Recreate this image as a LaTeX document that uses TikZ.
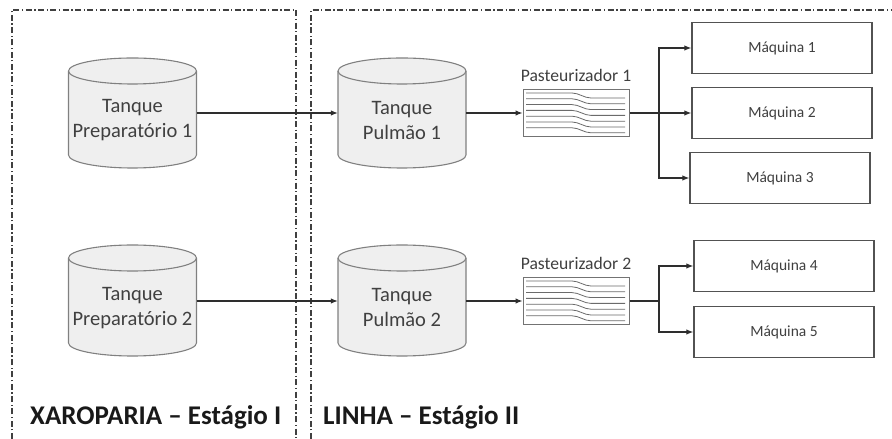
\documentclass[tikz,border=0pt]{standalone}
\usepackage{fontspec}
\setmainfont{Carlito}
\usetikzlibrary{arrows.meta}
\definecolor{tankfill}{HTML}{EFEFEF}
\definecolor{tankline}{HTML}{808080}
\definecolor{txt}{HTML}{404040}
\newcommand\mytank[6]{% name, cx, ytop, ybot, textY, text
  \filldraw[fill=tankfill,draw=tankline,line width=1.1pt]
    ({#2-64},{#3-13}) -- ({#2-64},{#4+13})
    arc[start angle=180,end angle=360,x radius=64,y radius=13]
    -- ({#2+64},{#3-13})
    arc[start angle=0,end angle=180,x radius=64,y radius=13] -- cycle;
  \draw[draw=tankline,line width=1.1pt] ({#2-64},{#3-13})
    arc[start angle=180,end angle=360,x radius=64,y radius=13];
  \node[minimum width=128pt,minimum height=60pt,inner sep=0pt] (#1) at (#2,{(#3+#4)/2}) {};
  \node[tanktext] (#1T) at (#2,#5) {#6};
}
\newcommand\mypast[4]{% name, cx, cy, label
  \node[past] (#1) at (#2,#3) {};
  \foreach \i in {0,...,6}{
    \draw[draw=black!58,line width=0.8pt]
      ({#2-50},{#3+20.5-\i*5.8}) -- ({#2-4},{#3+20.5-\i*5.8})
      .. controls ({#2+3},{#3+20.5-\i*5.8}) and ({#2+8},{#3+15.5-\i*5.8}) .. ({#2+15},{#3+15.5-\i*5.8})
      -- ({#2+49},{#3+15.5-\i*5.8});
  }
  \node[pastlabel] (#1L) at (#2,{#3+38}) {#4};
}
\begin{document}
\begin{tikzpicture}[x=1pt,y=1pt,
  frame/.style={draw=black!75,line width=1.2pt,dash pattern=on 6pt off 2.5pt on 1.3pt off 2.5pt},
  mach/.style={draw=black!68,line width=1.4pt,fill=white,minimum width=180pt,minimum height=51pt,
    inner sep=0pt,font=\fontsize{15.5}{19}\selectfont,text=txt},
  tanktext/.style={align=center,font=\fontsize{20.5}{25}\selectfont,text=txt,inner sep=0pt},
  past/.style={draw=black!55,line width=1pt,fill=white,minimum width=106pt,minimum height=47pt,inner sep=0pt},
  pastlabel/.style={font=\fontsize{17.6}{21}\selectfont,text=txt,inner sep=0pt},
  conn/.style={draw=black!82,line width=1.1pt},
  flow/.style={conn,-{Latex[length=7pt,width=5.5pt]}},
  stage/.style={font=\fontsize{27}{31}\selectfont\bfseries,text=black!90,inner sep=0pt,anchor=base west}
]
\useasboundingbox (0,0) rectangle (892,439);
% frames
\draw[frame] (12,0) -- (12,429) -- (296,429) -- (296,0);
\draw[frame] (311,0) -- (311,429) -- (892,429);
% tanks
\mytank{prep1}{132.5}{381}{271}{318.5}{Tanque\\Preparatório 1}
\mytank{pulm1}{402}{381}{271}{318.5}{Tanque\\Pulmão 1}
\mytank{prep2}{132.5}{194}{83}{131}{Tanque\\Preparatório 2}
\mytank{pulm2}{402}{194}{83}{131}{Tanque\\Pulmão 2}
% pasteurizers
\mypast{past1}{576}{325.5}{Pasteurizador 1}
\mypast{past2}{576}{137.5}{Pasteurizador 2}
% machines
\node[mach] (m1) at (782,391) {Máquina 1};
\node[mach] (m2) at (782,326) {Máquina 2};
\node[mach] (m3) at (780,261) {Máquina 3};
\node[mach] (m4) at (784,173) {Máquina 4};
\node[mach] (m5) at (784,107) {Máquina 5};
% split points
\coordinate (s1) at (659,326);
\coordinate (s2) at (659,138);
% connectors
\draw[flow] (prep1.east |- 0,326) -- (pulm1.west |- 0,326);
\draw[flow] (prep2.east |- 0,138) -- (pulm2.west |- 0,138);
\draw[flow] (pulm1.east |- 0,326) -- (past1.west |- 0,326);
\draw[flow] (pulm2.east |- 0,138) -- (past2.west |- 0,138);
\draw[conn] (past1.east |- s1) -- (s1);
\draw[conn] (past2.east |- s2) -- (s2);
\draw[flow] (s1) |- (m1.west);
\draw[flow] (s1) -- (m2.west);
\draw[flow] (s1) |- (m3.west);
\draw[flow] (s2) |- (m4.west);
\draw[flow] (s2) |- (m5.west);
% stage labels
\node[stage] (st1) at (30,14) {XAROPARIA – Estágio I};
\node[stage] (st2) at (323,14) {LINHA – Estágio II};
\end{tikzpicture}
\end{document}
